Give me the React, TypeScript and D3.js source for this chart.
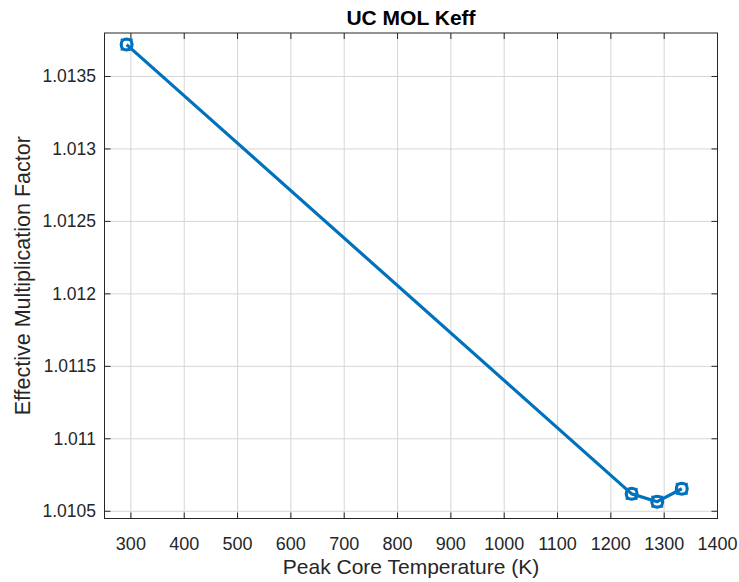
import React from "react";
import * as d3 from "d3";

const temps = [292, 1239, 1287, 1333];
const keff = [1.01372, 1.01062, 1.010566, 1.010655];
const xTicks = [300, 400, 500, 600, 700, 800, 900, 1000, 1100, 1200, 1300, 1400];
const yTicks = [1.0105, 1.011, 1.0115, 1.012, 1.0125, 1.013, 1.0135];
const yTickLabels = ["1.0105", "1.011", "1.0115", "1.012", "1.0125", "1.013", "1.0135"];

const W = 739, H = 582;
const L = 104.5, R = 717.5, T = 33, B = 518.5;
const color = "#0072BD";
const font = "'Liberation Sans', Arial, sans-serif";

export default function App() {
  const x = d3.scaleLinear().domain([250.5, 1400]).range([L, R]);
  const y = d3.scaleLinear().domain([1.01045, 1.0138]).range([B, T]);
  const line = d3.line<number>().x((_, i) => x(temps[i])).y((d) => y(d));
  const tl = 6;
  return (
    <svg width={W} height={H} style={{ position: "absolute", left: 0, top: 0, background: "#fff" }}>
      <rect x={0} y={0} width={W} height={H} fill="#fff" />
      {xTicks.map((t) => (
        <line key={"gx" + t} x1={x(t)} x2={x(t)} y1={T} y2={B} stroke="#d6d6d6" strokeWidth={1} />
      ))}
      {yTicks.map((t) => (
        <line key={"gy" + t} x1={L} x2={R} y1={y(t)} y2={y(t)} stroke="#d6d6d6" strokeWidth={1} />
      ))}
      {xTicks.map((t) => (
        <g key={"tx" + t}>
          <line x1={x(t)} x2={x(t)} y1={B} y2={B - tl} stroke="#262626" />
          <line x1={x(t)} x2={x(t)} y1={T} y2={T + tl} stroke="#262626" />
          <text x={x(t)} y={550} textAnchor="middle" fontFamily={font} fontSize={18} fill="#262626">{t}</text>
        </g>
      ))}
      {yTicks.map((t, i) => (
        <g key={"ty" + t}>
          <line x1={L} x2={L + tl} y1={y(t)} y2={y(t)} stroke="#262626" />
          <line x1={R} x2={R - tl} y1={y(t)} y2={y(t)} stroke="#262626" />
          <text x={96} y={y(t) + 6} textAnchor="end" fontFamily={font} fontSize={17.5} fill="#262626">{yTickLabels[i]}</text>
        </g>
      ))}
      <rect x={L} y={T} width={R - L} height={B - T} fill="none" stroke="#262626" strokeWidth={1} />
      <path d={line(keff) || ""} fill="none" stroke={color} strokeWidth={3.2} strokeLinejoin="round" />
      {keff.map((v, i) => (
        <g key={"m" + i}>
          <circle cx={x(temps[i])} cy={y(v)} r={5.5} fill="none" stroke={color} strokeWidth={3} />
          <rect x={x(temps[i]) - 5} y={y(v) - 5} width={10} height={10} fill="none" stroke={color} strokeWidth={2} />
        </g>
      ))}
      <text x={(L + R) / 2} y={25} textAnchor="middle" fontFamily={font} fontSize={21} fontWeight="bold" fill="#000">UC MOL Keff</text>
      <text x={(L + R) / 2} y={574} textAnchor="middle" fontFamily={font} fontSize={21} fill="#262626">Peak Core Temperature (K)</text>
      <text transform={`translate(30, ${(T + B) / 2}) rotate(-90)`} textAnchor="middle" fontFamily={font} fontSize={21.5} fill="#262626">Effective Multiplication Factor</text>
    </svg>
  );
}
